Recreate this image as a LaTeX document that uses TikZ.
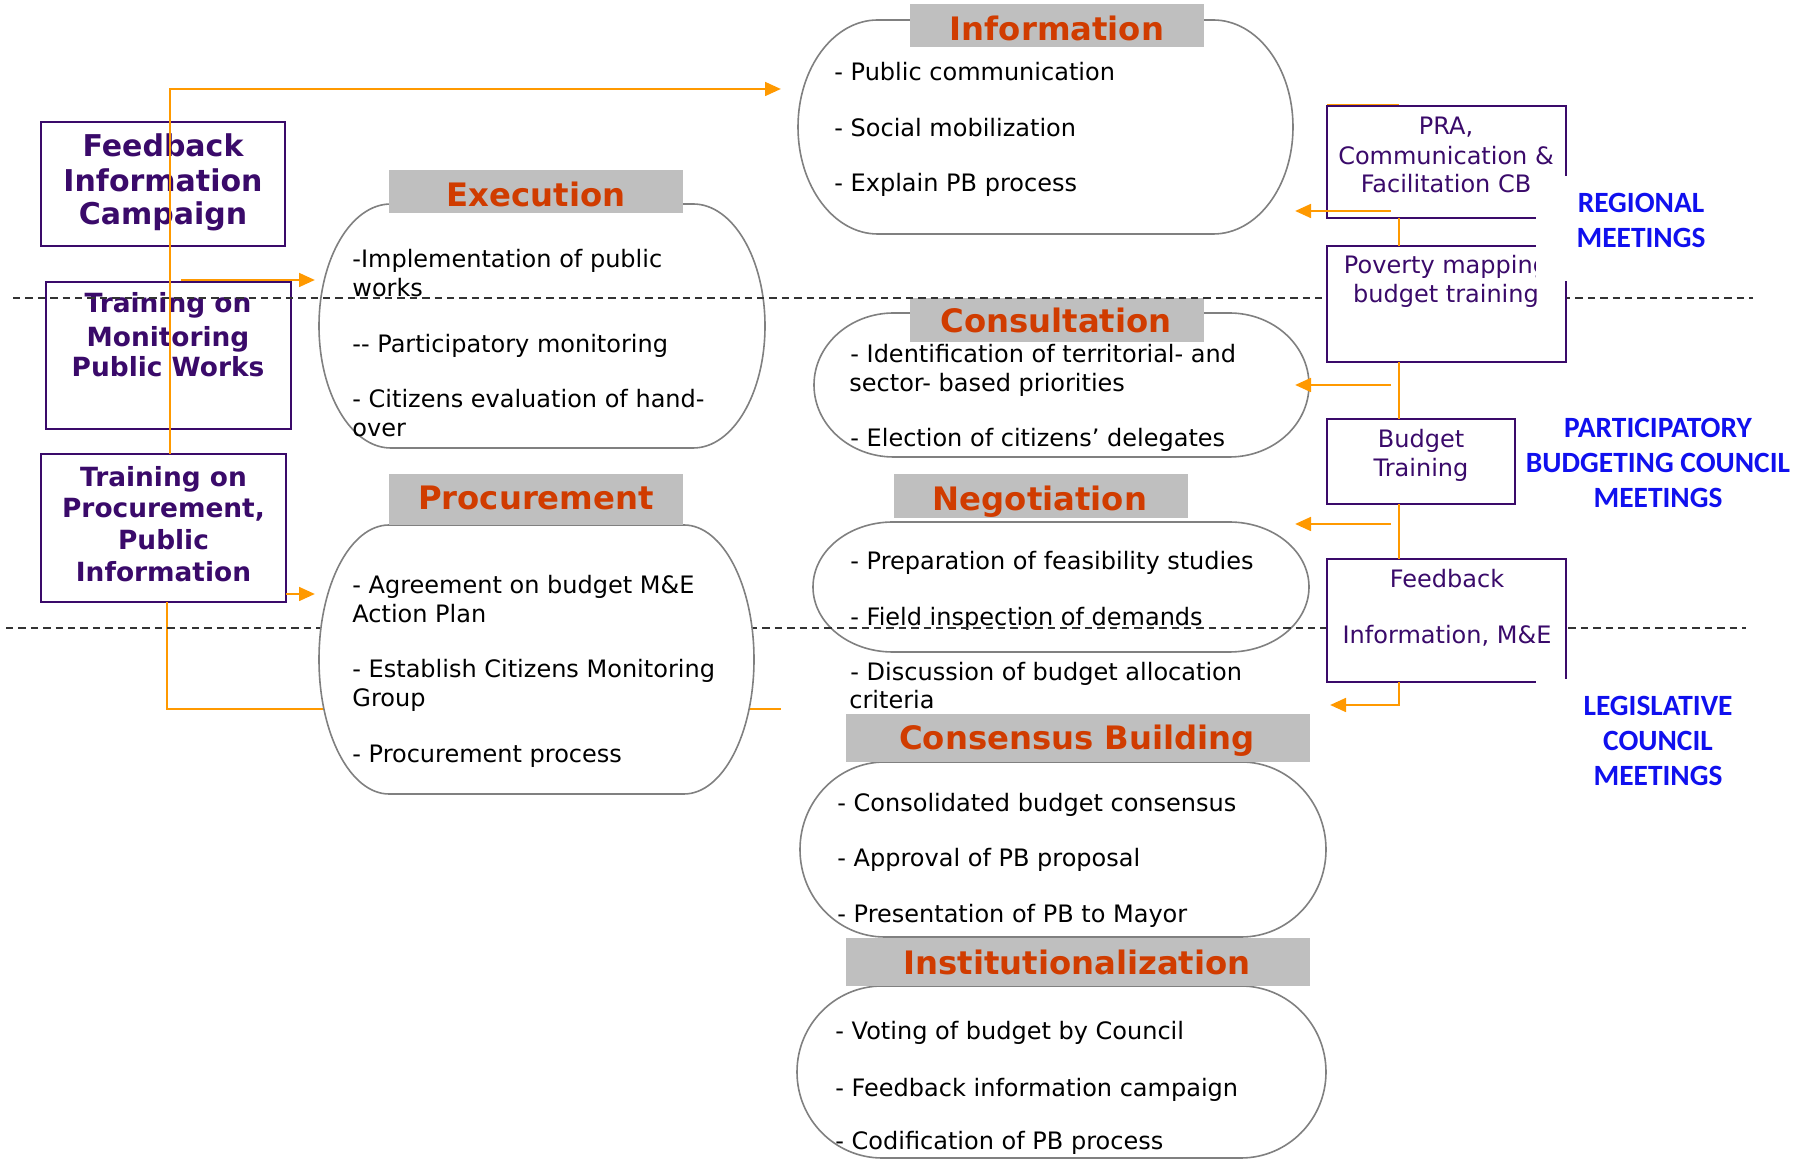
\documentclass[tikz,border=0pt]{standalone}
\usepackage{fontspec}
\setmainfont{DejaVu Sans}
\newfontfamily\carl{Carlito}
\usetikzlibrary{arrows.meta}
\definecolor{hdrred}{HTML}{D03C00}
\definecolor{hdrgray}{HTML}{BFBFBF}
\definecolor{outl}{HTML}{808080}
\definecolor{orng}{HTML}{FF9900}
\definecolor{purp}{HTML}{3A0A6A}
\definecolor{lblue}{HTML}{1010EE}
% terminator shape: #1 name, #2 x1, #3 y1, #4 x2, #5 y2
\newcommand\termin[5]{%
  \pgfmathsetmacro\TmRx{0.161*(#4-#2)}%
  \pgfmathsetmacro\TmCy{(#3+#5)/2}%
  \pgfmathsetmacro\TmKy{0.5523*(#5-#3)/2}%
  \pgfmathsetmacro\TmA{#2+\TmRx}%
  \pgfmathsetmacro\TmB{#4-\TmRx}%
  \pgfmathsetmacro\TmKx{0.5523*\TmRx}%
  \coordinate (#1) at ({(#2+#4)/2},\TmCy);
  \draw[termline] (\TmA,#3) -- (\TmB,#3)
    .. controls (\TmB+\TmKx,#3) and (#4,\TmCy-\TmKy) .. (#4,\TmCy)
    .. controls (#4,\TmCy+\TmKy) and (\TmB+\TmKx,#5) .. (\TmB,#5)
    -- (\TmA,#5)
    .. controls (\TmA-\TmKx,#5) and (#2,\TmCy+\TmKy) .. (#2,\TmCy)
    .. controls (#2,\TmCy-\TmKy) and (\TmA-\TmKx,#3) .. (\TmA,#3) -- cycle;}
% rectangle node: #1 style, #2 name, #3 x1, #4 y1, #5 x2, #6 y2
\newcommand\bx[6]{\node[#1,inner sep=0,outer sep=0,minimum width={(#5-#3)*0.5pt},minimum height={(#6-#4)*0.5pt}] (#2) at ({(#3+#5)/2},{(#4+#6)/2}) {};}
\begin{document}
\begin{tikzpicture}[x=0.5pt,y=-0.5pt,
  body/.style={anchor=base west,inner sep=0,font=\fontsize{12}{14}\selectfont},
  hdr/.style={anchor=base,inner sep=0,text=hdrred,font=\fontsize{16.15}{19}\selectfont\bfseries},
  lbt/.style={anchor=base,inner sep=0,text=purp,font=\fontsize{13.2}{16}\selectfont\bfseries},
  lbtbig/.style={lbt,font=\fontsize{15}{18}\selectfont\bfseries},
  rbt/.style={anchor=base,inner sep=0,text=purp,font=\fontsize{12}{14}\selectfont},
  blu/.style={anchor=base,inner sep=0,text=lblue,font=\carl\fontsize{14.7}{17}\selectfont\bfseries},
  termline/.style={draw=outl,line width=0.8pt,fill=white},
  grayhdr/.style={fill=hdrgray,draw=none},
  lbox/.style={draw=purp,line width=0.9pt},
  rbox/.style={draw=purp,line width=0.9pt,fill=white},
  cover/.style={fill=white,draw=none},
  oline/.style={draw=orng,line width=1.45pt},
  oarr/.style={oline,-{Triangle[length=8pt,width=6.8pt]}},
  dline/.style={draw=black!80,line width=0.55pt,dash pattern=on 3.7pt off 2.5pt}]
\useasboundingbox (0,0) rectangle (1806,1159);
\fill[white] (0,0) rectangle (1806,1159);

% ---------- left boxes ----------
\bx{lbox}{fic}{41}{122}{285}{246}
\node[lbtbig] (fic1) at (163,157) {Feedback};
\node[lbtbig] (fic2) at (163,192) {Information};
\node[lbtbig] (fic3) at (163,225) {Campaign};

\bx{lbox}{tmon}{46}{282}{291}{429}
\node[lbt] (tmon1) at (168,313) {Training on};
\node[lbt] (tmon2) at (168,347) {Monitoring};
\node[lbt] (tmon3) at (168,377) {Public Works};

\bx{lbox}{tproc}{41}{454}{286}{602}
\node[lbt] (tproc1) at (163.5,487) {Training on};
\node[lbt] (tproc2) at (163.5,518) {Procurement,};
\node[lbt] (tproc3) at (163.5,550) {Public};
\node[lbt] (tproc4) at (163.5,582) {Information};

% ---------- left orange connectors ----------
\coordinate (infotip) at (781,89);
\coordinate (exstart) at (181,280);
\coordinate (extip) at (315,280);
\coordinate (prtip) at (315,594);
\coordinate (l4end) at (781,709);
\draw[oline] ([xshift=1.75pt]tproc.south) |- (l4end);
\draw[oarr] ([xshift=3.25pt]tproc.north) |- (infotip);
\draw[oarr] (exstart) -- (extip);
\draw[oarr] (tproc.east |- prtip) -- (prtip);

% ---------- Information ----------
\termin{info}{798}{20}{1293}{234}
\bx{grayhdr}{infoH}{910}{4}{1204}{47}
\node[hdr] (infoT) at (1057,41) {Information};
\node[body] (info1) at (834,81) {- Public communication};
\node[body] (info2) at (834,137) {- Social mobilization};
\node[body] (info3) at (834,192) {- Explain PB process};

% ---------- Execution ----------
\termin{exec}{319}{204}{765}{448}
\bx{grayhdr}{execH}{389}{170}{683}{213}
\node[hdr] (execT) at (536,207) {Execution};
\node[body] (exec1) at (352,268) {-Implementation of public};
\node[body] (exec2) at (352,297) {works};
\node[body] (exec3) at (352,353) {-{}- Participatory monitoring};
\node[body] (exec4) at (352,408) {- Citizens evaluation of hand-};
\node[body] (exec5) at (352,437) {over};

% ---------- Consultation ----------
\termin{cons}{814}{313}{1309}{457}
\bx{grayhdr}{consH}{910}{298}{1204}{342}
\node[hdr] (consT) at (1056,333) {Consultation};
\node[body] (cons1) at (850,363) {- Identification of territorial- and};
\node[body] (cons2) at (849,392) {sector- based priorities};
\node[body] (cons3) at (850,447) {- Election of citizens’ delegates};

% ---------- Negotiation ----------
\bx{grayhdr}{negH}{894}{474}{1188}{518}
\node[hdr] (negT) at (1040,511) {Negotiation};
\termin{neg}{813}{522}{1309}{652}
\node[body] (neg1) at (850,570) {- Preparation of feasibility studies};
\node[body] (neg2) at (850,626) {- Field inspection of demands};
\node[body] (neg3) at (850,681) {- Discussion of budget allocation};
\node[body] (neg4) at (849,709) {criteria};

% ---------- Consensus Building ----------
\termin{cb}{800}{762}{1326}{937}
\bx{grayhdr}{cbH}{846}{714}{1310}{762}
\node[hdr] (cbT) at (1077,750) {Consensus Building};
\node[body] (cb1) at (837,812) {- Consolidated budget consensus};
\node[body] (cb2) at (837,867) {- Approval of PB proposal};
\node[body] (cb3) at (837,923) {- Presentation of PB to Mayor};

% ---------- Institutionalization ----------
\termin{inst}{797}{986}{1326}{1158}
\bx{grayhdr}{instH}{846}{938}{1310}{986}
\node[hdr] (instT) at (1077,975) {Institutionalization};
\node[body] (inst1) at (835,1040) {- Voting of budget by Council};
\node[body] (inst2) at (835,1096) {- Feedback information campaign};
\node[body] (inst3) at (835,1150) {- Codification of PB process};

% ---------- dashed separators ----------
\coordinate (d1a) at (13,298);
\coordinate (d1b) at (1753,298);
\coordinate (d2a) at (6,628);
\coordinate (d2b) at (1746,628);
\draw[dline] (d1a) -- (d1b);
\draw[dline] (d2a) -- (d2b);

% ---------- Procurement ----------
\termin{proc}{319}{525}{754}{794}
\bx{grayhdr}{procH}{389}{474}{683}{525}
\node[hdr] (procT) at (536,510) {Procurement};
\node[body] (proc1) at (352,594) {- Agreement on budget M\&E};
\node[body] (proc2) at (352,623) {Action Plan};
\node[body] (proc3) at (352,678) {- Establish Citizens Monitoring};
\node[body] (proc4) at (352,707) {Group};
\node[body] (proc5) at (352,763) {- Procurement process};

% ---------- right boxes ----------
\coordinate (vx) at (1399,0);
\coordinate (pratl) at (1327,105);
\draw[draw=orng,line width=1pt] (pratl) -- (pratl -| vx);
\bx{rbox}{pra}{1327}{106}{1566}{218}
\node[rbt] (pra1) at (1446,135) {PRA,};
\node[rbt] (pra2) at (1446,165) {Communication \&};
\node[rbt] (pra3) at (1446,193) {Facilitation CB};

\bx{rbox}{pov}{1327}{246}{1566}{362}
\node[rbt] (pov1) at (1446,274) {Poverty mapping};
\node[rbt] (pov2) at (1446,303) {budget training};

\bx{rbox}{bud}{1327}{419}{1515}{504}
\node[rbt] (bud1) at (1421,448) {Budget};
\node[rbt] (bud2) at (1421,477) {Training};

\bx{rbox}{fbm}{1327}{559}{1566}{682}
\node[rbt] (fbm1) at (1447,588) {Feedback};
\node[rbt] (fbm2) at (1447,644) {Information, M\&E};

% ---------- right orange connectors ----------
\coordinate (fbtip) at (1330,705);
\coordinate (r1s) at (1391,211);
\coordinate (r1t) at (1295,211);
\coordinate (r2s) at (1391,385);
\coordinate (r2t) at (1295,385);
\coordinate (r3s) at (1391,524);
\coordinate (r3t) at (1295,524);
\draw[oline] (pra.south -| vx) -- (pov.north -| vx);
\draw[oline] (pov.south -| vx) -- (bud.north -| vx);
\draw[oline] (bud.south -| vx) -- (fbm.north -| vx);
\draw[oarr] (fbm.south -| vx) |- (fbtip);
\draw[oarr] (r1s) -- (r1t);
\draw[oarr] (r2s) -- (r2t);
\draw[oarr] (r3s) -- (r3t);

% ---------- meeting labels ----------
\bx{cover}{regC}{1536}{176}{1770}{281}
\node[blu] (reg1) at (1641,213) {REGIONAL};
\node[blu] (reg2) at (1641,248) {MEETINGS};

\node[blu] (pbc1) at (1658,438) {PARTICIPATORY};
\node[blu] (pbc2) at (1658,473) {BUDGETING COUNCIL};
\node[blu] (pbc3) at (1658,508) {MEETINGS};

\bx{cover}{legC}{1536}{679}{1770}{800}
\node[blu] (leg1) at (1658,716) {LEGISLATIVE};
\node[blu] (leg2) at (1658,751) {COUNCIL};
\node[blu] (leg3) at (1658,786) {MEETINGS};
\end{tikzpicture}
\end{document}
